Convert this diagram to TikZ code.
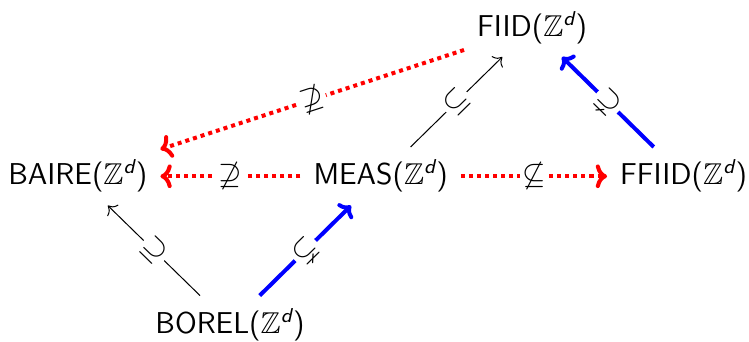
\documentclass[tikz,border=0pt]{standalone}
\usepackage{amsmath, amssymb}
\usepackage{tikz}
\usetikzlibrary{arrows.meta}

\newcommand{\Zd}{$\mathbb{Z}^{\textsf{\itshape d}}$}

\begin{document}
\begin{tikzpicture}[
    cls/.style={font=\large\sffamily, inner sep=5pt},
    incl/.style={-{To[length=3pt]}, line width=0.4pt, black},
    strict_incl/.style={-{To[length=4pt]}, line width=1.6pt, blue},
    non_incl/.style={-{To[length=4.5pt]}, line width=1.6pt, red, dash pattern=on 1.6pt off 1.6pt},
    rel/.style={midway, sloped, fill=white, inner sep=1pt, text=black, font=\large}
]
    \useasboundingbox (0,0) rectangle (10.486,4.788);

    % The classes
    \node[cls] (fiid) at (7.45, 4.40) {FIID(\Zd)};
    \node[cls] (baire) at (1.09, 2.32) {BAIRE(\Zd)};
    \node[cls] (meas) at (5.33, 2.32) {MEAS(\Zd)};
    \node[cls] (ffiid) at (9.57, 2.32) {FFIID(\Zd)};
    \node[cls] (borel) at (3.22, 0.24) {BOREL(\Zd)};

    % --- Inclusions ---
    \draw[incl] (borel) -- (baire) node[rel] {$\supseteq$};
    \draw[incl] (meas) -- (fiid) node[rel] {$\subseteq$};

    % Strict inclusions
    \draw[strict_incl] (borel) -- (meas) node[rel] {$\subsetneq$};
    \draw[strict_incl] (ffiid) -- (fiid) node[rel] {$\supsetneq$};

    % --- Non-inclusions ---
    \draw[non_incl] (fiid) -- (baire) node[rel] {$\not\supseteq$};
    \draw[non_incl] (meas) -- (baire) node[rel] {$\not\supseteq$};
    \draw[non_incl] (meas) -- (ffiid) node[rel] {$\not\subseteq$};

\end{tikzpicture}
\end{document}
